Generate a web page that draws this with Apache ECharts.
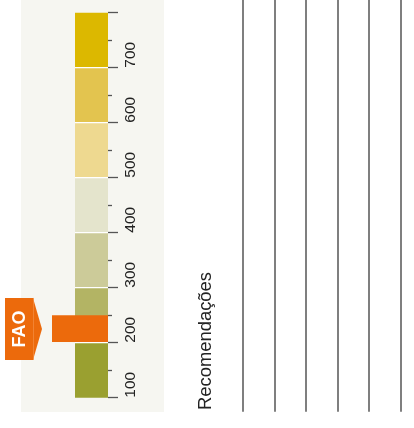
<!DOCTYPE html>
<html>
<head>
<meta charset="utf-8">
<script src="https://cdn.jsdelivr.net/npm/echarts@6/dist/echarts.min.js"></script>
<style>
html,body{margin:0;padding:0;background:#fff;}
#chart{width:414px;height:428px;}
</style>
</head>
<body>
<div id="chart"></div>
<script>
// Scale bands (mg values) and their colours
const bandEdges = [100, 200, 300, 400, 500, 600, 700, 800];
const bandColors = ['#9aa030', '#b3b464', '#cccb99', '#e4e4cc', '#eed990', '#e3c44f', '#dcb800'];
const tickValues = [100, 200, 300, 400, 500, 600, 700, 800];
// FAO marker range
const markerLabel = 'FAO';
const markerRange = [200, 250];
// Recommendation columns
const recTitle = 'Recomendações';
const recColumns = [0, 1, 2, 3, 4, 5];

const bands = [];
for (let i = 0; i < bandColors.length; i++) bands.push([0, bandEdges[i], bandEdges[i + 1], i]);

const FONT = "'Liberation Sans', Arial, Helvetica, sans-serif";
const chart = echarts.init(document.getElementById('chart'), null, {renderer: 'canvas'});

chart.setOption({
  animation: false,
  backgroundColor: '#ffffff',
  graphic: [
    {type: 'rect', z: -10, shape: {x: 21, y: 0, width: 143, height: 412}, style: {fill: '#f6f6f1'}},
    {type: 'text', x: 206, y: 410, rotation: Math.PI / 2,
     style: {text: recTitle, font: '18.4px ' + FONT, fill: '#222', align: 'left', verticalAlign: 'middle'}}
  ],
  grid: [
    {left: 75, width: 33, top: 12.7, bottom: 30.3},
    {left: 242.7, right: 13.3, top: 0, bottom: 16.3}
  ],
  xAxis: [
    {gridIndex: 0, type: 'category', data: ['scale'], show: false},
    {gridIndex: 1, type: 'value', min: recColumns[0], max: recColumns[recColumns.length - 1], interval: 1,
     axisLine: {show: false}, axisTick: {show: false}, axisLabel: {show: false},
     splitLine: {show: true, showMinLine: true, showMaxLine: true, lineStyle: {color: '#555', width: 1.5}}}
  ],
  yAxis: [
    {gridIndex: 0, type: 'value', position: 'right', min: tickValues[0], max: tickValues[tickValues.length - 1], interval: 100,
     axisLine: {show: false},
     axisTick: {show: true, length: 10, lineStyle: {color: '#555', width: 1.3}},
     minorTick: {show: true, splitNumber: 2, length: 4, lineStyle: {color: '#555', width: 1.3}},
     splitLine: {show: false},
     axisLabel: {show: true, rotate: 90, margin: 23, fontSize: 15.5, fontFamily: FONT, color: '#222',
       align: 'left', verticalAlign: 'middle',
       formatter: function (v) { return v === 800 ? '' : String(v); }}
    },
    {gridIndex: 1, type: 'category', data: [''], show: false}
  ],
  series: [
    {
      type: 'custom', xAxisIndex: 0, yAxisIndex: 0, data: bands, clip: false,
      encode: {x: 0, y: [1, 2]},
      renderItem: function (params, api) {
        const lo = api.coord([0, api.value(1)]);
        const hi = api.coord([0, api.value(2)]);
        const w = api.size([1, 0])[0];
        const idx = api.value(3);
        const children = [{type: 'rect', shape: {x: lo[0] - w / 2, y: hi[1], width: w, height: lo[1] - hi[1]},
          style: {fill: bandColors[idx]}}];
        if (idx > 0) {
          children.push({type: 'line', shape: {x1: lo[0] - w / 2, y1: lo[1], x2: lo[0] + w / 2, y2: lo[1]},
            style: {stroke: '#ffffff', lineWidth: 1.2}});
        }
        return {type: 'group', children: children};
      }
    },
    {
      type: 'custom', xAxisIndex: 0, yAxisIndex: 0, data: [[0, markerRange[0], markerRange[1]]], clip: false, z: 5,
      encode: {x: 0, y: [1, 2]},
      renderItem: function (params, api) {
        const lo = api.coord([0, api.value(1)]);
        const hi = api.coord([0, api.value(2)]);
        const w = api.size([1, 0])[0];
        const right = lo[0] + w / 2;
        const mid = (lo[1] + hi[1]) / 2;
        const orange = '#ec6a0c';
        return {type: 'group', children: [
          {type: 'rect', shape: {x: right - 56, y: hi[1], width: 56, height: lo[1] - hi[1] - 0.6}, style: {fill: orange}},
          {type: 'polygon', shape: {points: [[5, mid - 31], [33, mid - 31], [42, mid], [33, mid + 31], [5, mid + 31]]},
           style: {fill: orange}},
          {type: 'line', shape: {x1: 33.5, y1: mid - 31, x2: 33.5, y2: mid + 31}, style: {stroke: '#f48a3c', lineWidth: 0.8}},
          {type: 'text', x: 20.5, y: mid, rotation: Math.PI / 2,
           style: {text: markerLabel, font: 'bold 18px ' + FONT, fill: '#ffffff', align: 'center', verticalAlign: 'middle'}}
        ]};
      }
    }
  ]
});
</script>
</body>
</html>
